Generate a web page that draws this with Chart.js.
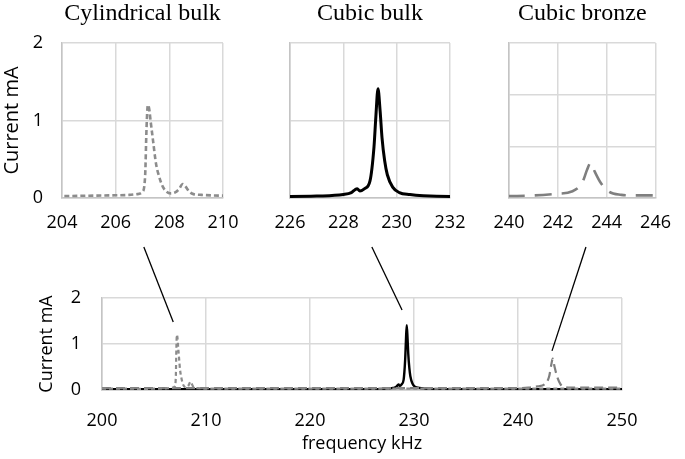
<!DOCTYPE html>
<html><head><meta charset="utf-8">
<script src="https://cdn.jsdelivr.net/npm/chart.js@4.4.0/dist/chart.umd.min.js"></script>
<style>
html,body{margin:0;padding:0;background:#fff;}
#wrap{position:relative;width:685px;height:459px;overflow:hidden;}
#wrap canvas{position:absolute;left:0;top:0;}
</style></head><body>
<div id="wrap">
<canvas id="cBottom" width="685" height="459"></canvas>
<canvas id="c1" width="685" height="459"></canvas>
<canvas id="c2" width="685" height="459"></canvas>
<canvas id="c3" width="685" height="459"></canvas>
<canvas id="ov" width="685" height="459"></canvas>
</div>
<script>
// ---- data ----
const panelTitles = ["Cylindrical bulk", "Cubic bulk", "Cubic bronze"];
const yAxisTitle = "Current mA";
const xAxisTitle = "frequency kHz";

const cylFreq = [200,202,204,205,206,206.5,206.8,207.0,207.1,207.15,207.2,207.25,207.3,207.4,207.5,207.6,207.75,207.9,208.05,208.2,208.35,208.5,208.6,208.75,208.9,209.2,210,215,220,225,230,235,240,245,250];
const cylCurrent = [0.03,0.03,0.025,0.03,0.035,0.04,0.05,0.08,0.3,0.9,1.2,1.15,1.0,0.72,0.45,0.3,0.15,0.08,0.06,0.07,0.11,0.18,0.15,0.08,0.05,0.04,0.03,0.03,0.03,0.03,0.03,0.03,0.03,0.03,0.03];

const bulkFreq = [200,210,220,225,226,227,228,228.3,228.45,228.52,228.62,228.8,229.0,229.15,229.22,229.3,229.38,229.45,229.55,229.65,229.85,230.1,230.5,231,232,240,250];
const bulkCurrent = [0.02,0.02,0.02,0.02,0.02,0.025,0.045,0.07,0.11,0.12,0.09,0.12,0.22,0.66,1.05,1.41,1.12,0.78,0.48,0.3,0.14,0.07,0.045,0.03,0.02,0.02,0.02];

const bronzeFreq = [200,210,220,230,240,241,241.9,242.6,243.0,243.2,243.34,243.5,243.76,244.1,244.6,245,246,250];
const bronzeCurrent = [0.04,0.04,0.04,0.04,0.04,0.05,0.08,0.13,0.3,0.55,0.68,0.52,0.29,0.12,0.06,0.05,0.05,0.05];

const panelXRanges = [[204,210],[226,232],[240,246]];
const panelYMax = [2, 2, 3];
const bottomXRange = [200, 250];
const bottomYMax = 2;

// connector lines (zoom callouts)
const connectorTopFreq = [207.05, 229.07, 243.15];
const connectorBottomFreq = [206.85, 228.85, 243.27];
const connectorBottomCurrent = [1.48, 1.74, 0.85];

// ---- helpers ----
const pts = (xs, ys) => xs.map((x, i) => ({x: x, y: ys[i]}));
const TICK_FONT = {family: "'Open Sans', sans-serif", size: 18};
const GRID = {color: '#d9d9d9', lineWidth: 1.5, drawTicks: false};
const BORDER = {color: '#c4c4c4', width: 1.5};

const titlePlugin = {
  id: 'panelTitle',
  afterDraw(chart, args, opts) {
    if (!opts || !opts.text) return;
    const ctx = chart.ctx, a = chart.chartArea;
    ctx.save();
    ctx.font = "24px 'Liberation Serif', 'Times New Roman', serif";
    ctx.fillStyle = '#000';
    ctx.textAlign = 'center';
    ctx.textBaseline = 'alphabetic';
    ctx.fillText(opts.text, (a.left + a.right) / 2, opts.y);
    ctx.restore();
  }
};

const seriesStyle = {
  cyl:    {borderColor: '#8c8c8c', borderDash: [5, 3], borderWidth: 2.6},
  bulk:   {borderColor: '#000000', borderDash: [],     borderWidth: 3},
  bronze: {borderColor: '#7f7f7f', borderDash: [17, 10], borderWidth: 2.6}
};

function ds(data, style, order) {
  return Object.assign({data: data, pointRadius: 0, fill: false,
    cubicInterpolationMode: 'monotone', order: order}, style);
}

const chartsTop = [];
const panelLayouts = [
  {left: 0,   yw: 62, right: 685 - 223},
  {left: 290, yw: 0,  right: 685 - 450},
  {left: 509, yw: 0,  right: 685 - 667}
];
const panelData = [pts(cylFreq, cylCurrent), pts(bulkFreq, bulkCurrent), pts(bronzeFreq, bronzeCurrent)];
const panelStyles = [seriesStyle.cyl, seriesStyle.bulk, seriesStyle.bronze];

for (let i = 0; i < 3; i++) {
  const L = panelLayouts[i];
  const showY = i === 0;
  const ch = new Chart(document.getElementById('c' + (i + 1)), {
    type: 'line',
    data: {datasets: [ds(panelData[i], panelStyles[i], 1)]},
    options: {
      responsive: false, animation: false, events: [],
      layout: {padding: {left: L.left, right: L.right, top: 43, bottom: 221}},
      plugins: {legend: {display: false}, tooltip: {enabled: false},
        panelTitle: {text: panelTitles[i], y: 20}},
      scales: {
        x: {type: 'linear', min: panelXRanges[i][0], max: panelXRanges[i][1],
          ticks: {stepSize: 2, font: TICK_FONT, color: '#000', padding: 14, maxRotation: 0},
          grid: GRID, border: BORDER,
          afterFit: s => { s.height = 40; }},
        y: {type: 'linear', min: 0, max: panelYMax[i],
          ticks: {stepSize: 1, display: showY, font: TICK_FONT, color: '#000', padding: 19},
          title: {display: showY, text: yAxisTitle, font: {family: "'Open Sans', sans-serif", size: 20}, color: '#000', padding: 0},
          grid: GRID, border: BORDER,
          afterFit: s => { s.width = L.yw; }}
      }
    },
    plugins: [titlePlugin]
  });
  chartsTop.push(ch);
}

const bottom = new Chart(document.getElementById('cBottom'), {
  type: 'line',
  data: {datasets: [
    ds(pts(cylFreq, cylCurrent), {borderColor: '#8c8c8c', borderDash: [4, 3], borderWidth: 2.2}, 1),
    ds(pts(bronzeFreq, bronzeCurrent), {borderColor: '#7f7f7f', borderDash: [9, 5], borderWidth: 2.2}, 2),
    ds(pts(bulkFreq, bulkCurrent), {borderColor: '#000', borderDash: [], borderWidth: 2.4}, 3)
  ]},
  options: {
    responsive: false, animation: false, events: [],
    layout: {padding: {left: 36, right: 685 - 622, top: 298, bottom: 4}},
    plugins: {legend: {display: false}, tooltip: {enabled: false}},
    scales: {
      x: {type: 'linear', min: bottomXRange[0], max: bottomXRange[1],
        ticks: {stepSize: 10, font: TICK_FONT, color: '#000', padding: 20, maxRotation: 0},
        title: {display: true, text: xAxisTitle, font: {family: "'Open Sans', sans-serif", size: 18}, color: '#000', padding: 0},
        grid: GRID, border: BORDER,
        afterFit: s => { s.height = 65; }},
      y: {type: 'linear', min: 0, max: bottomYMax,
        ticks: {stepSize: 1, font: TICK_FONT, color: '#000', padding: 21},
        title: {display: true, text: yAxisTitle, font: {family: "'Open Sans', sans-serif", size: 18}, color: '#000', padding: 0},
        grid: GRID, border: BORDER,
        afterFit: s => { s.width = 66; }}
    }
  }
});

// connectors
const ov = document.getElementById('ov').getContext('2d');
ov.strokeStyle = '#000';
ov.lineWidth = 1.3;
for (let i = 0; i < 3; i++) {
  const x0 = chartsTop[i].scales.x.getPixelForValue(connectorTopFreq[i]);
  const y0 = 247;
  const x1 = bottom.scales.x.getPixelForValue(connectorBottomFreq[i]);
  const y1 = bottom.scales.y.getPixelForValue(connectorBottomCurrent[i]);
  ov.beginPath();
  ov.moveTo(x0, y0);
  ov.lineTo(x1, y1);
  ov.stroke();
}
</script>
</body></html>
